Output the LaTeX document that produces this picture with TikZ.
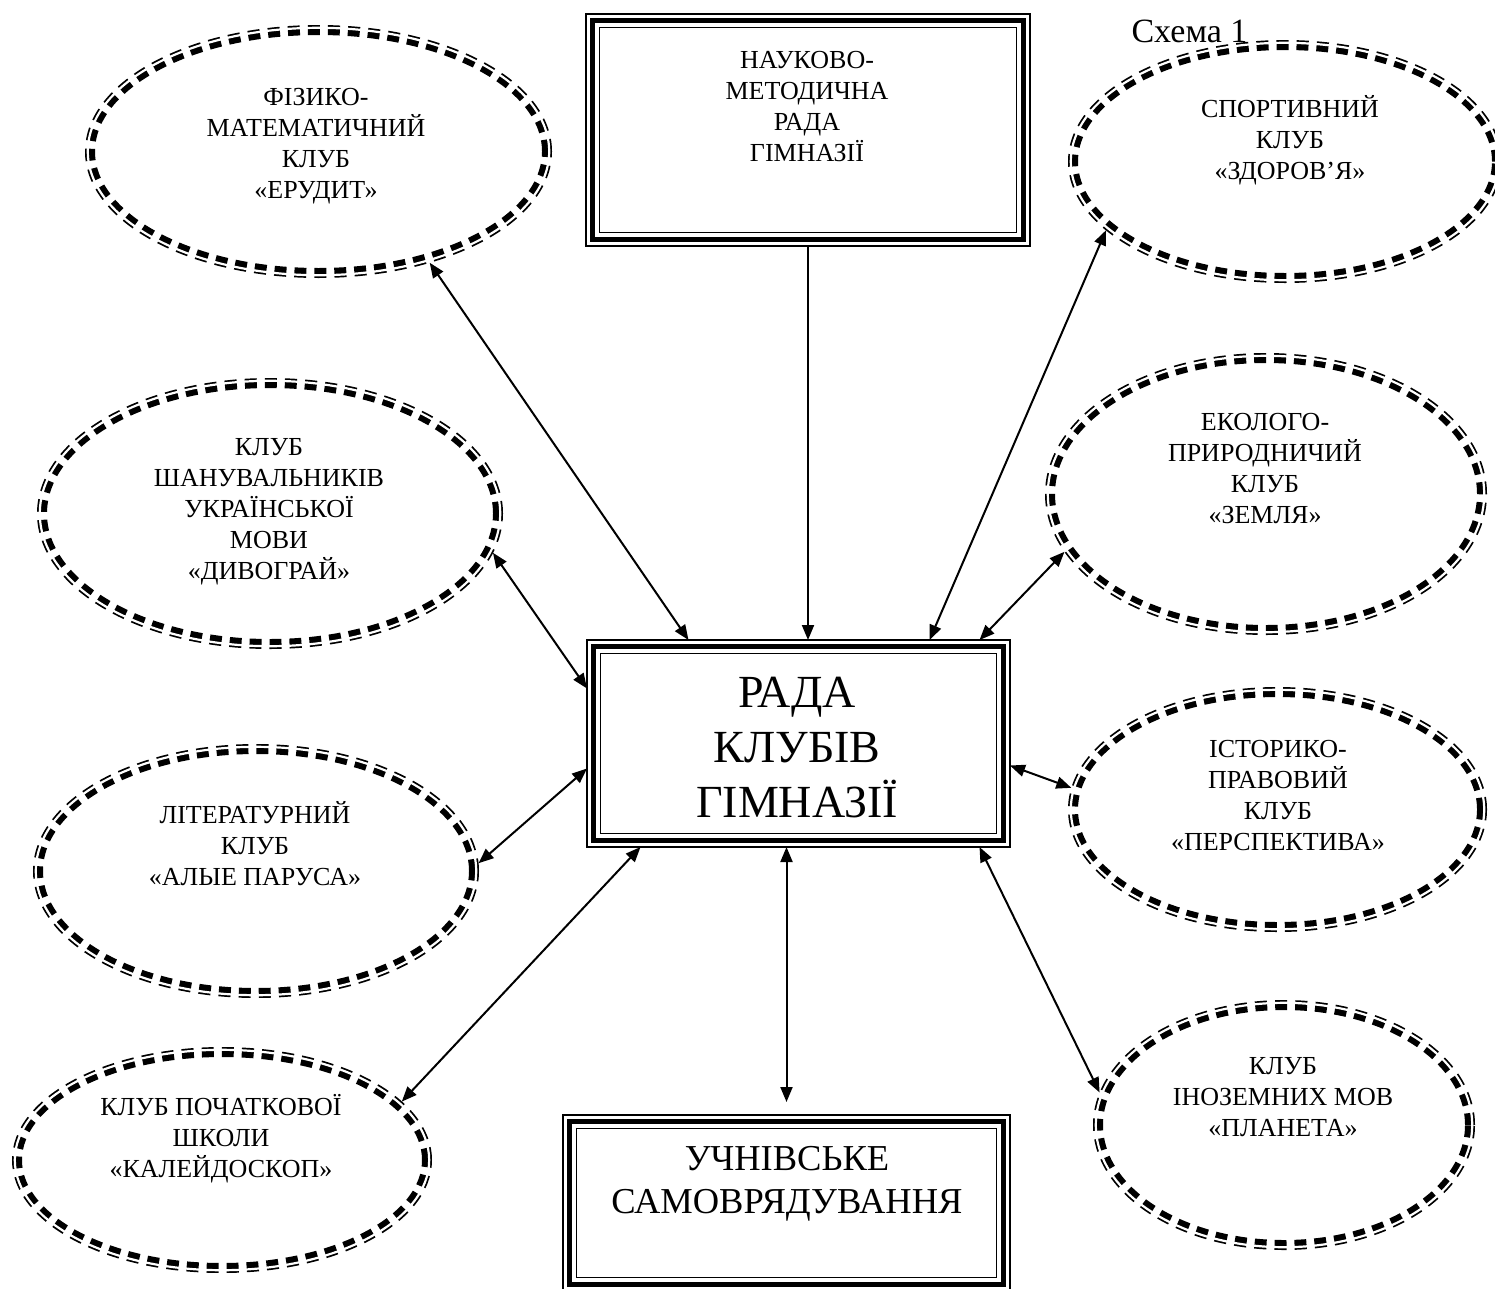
\documentclass[tikz,border=0pt]{standalone}
\usepackage{fontspec}
\setmainfont{Liberation Serif}
\usetikzlibrary{shapes.geometric, arrows.meta}

\tikzset{
  club/.style={ellipse, draw, line width=10pt, dash pattern=on 12pt off 8pt, inner sep=0pt},
  clubgap/.style={draw=white, line width=2.2pt},
  clubtext/.style={align=center, font=\fontsize{26}{31}\selectfont},
  mainbox/.style={rectangle, draw, line width=5pt, inner sep=0pt, outer sep=6.5pt},
  boxthin/.style={line width=1.5pt},
  radatext/.style={align=center, font=\fontsize{46}{55}\selectfont},
  selftext/.style={align=center, font=\fontsize{36.5}{43}\selectfont},
  link/.style={line width=2pt, {Triangle[length=15pt,width=12pt]}-{Triangle[length=15pt,width=12pt]}},
  linkone/.style={line width=2pt, -{Triangle[length=15pt,width=12pt]}}
}

\begin{document}
\begin{tikzpicture}[x=1pt, y=-1pt]
            \useasboundingbox (0,0) rectangle (1495,1288);

            % boxes
            \node[mainbox, minimum width=431pt, minimum height=219pt] (nmr) at (808,130) {};
            \draw[boxthin] (nmr.north west) rectangle (nmr.south east);
            \draw[boxthin] ([shift={(13.5pt,-13.5pt)}]nmr.north west) rectangle ([shift={(-13.5pt,13.5pt)}]nmr.south east);
            \node[clubtext] (nmr-text) at (807,107) {НАУКОВО-\\МЕТОДИЧНА\\РАДА\\ГІМНАЗІЇ};

            \node[mainbox, minimum width=410pt, minimum height=194pt] (rada) at (798.5,743.5) {};
            \draw[boxthin] (rada.north west) rectangle (rada.south east);
            \draw[boxthin] ([shift={(13.5pt,-13.5pt)}]rada.north west) rectangle ([shift={(-13.5pt,13.5pt)}]rada.south east);
            \node[radatext] (rada-text) at (797,748) {РАДА\\КЛУБІВ\\ГІМНАЗІЇ};

            \node[mainbox, minimum width=434pt, minimum height=163pt] (samovr) at (786.5,1203) {};
            \draw[boxthin] (samovr.north west) rectangle (samovr.south east);
            \draw[boxthin] ([shift={(13.5pt,-13.5pt)}]samovr.north west) rectangle ([shift={(-13.5pt,13.5pt)}]samovr.south east);
            \node[selftext] (samovr-text) at (787,1184) {УЧНІВСЬКЕ\\САМОВРЯДУВАННЯ};

            % clubs, left
            \node[club, minimum width=457pt, minimum height=243pt] (erudyt) at (318.5,151.5) {};
            \draw[clubgap] (erudyt.center) ellipse (230.7pt and 123.7pt);
            \node[clubtext] (erudyt-text) at (316,146) {ФІЗИКО-\\МАТЕМАТИЧНИЙ\\КЛУБ\\«ЕРУДИТ»};

            \node[club, minimum width=456pt, minimum height=261pt] (dyvohrai) at (270,513.5) {};
            \draw[clubgap] (dyvohrai.center) ellipse (230.2pt and 132.7pt);
            \node[clubtext] (dyvohrai-text) at (269,512) {КЛУБ\\ШАНУВАЛЬНИКІВ\\УКРАЇНСЬКОЇ\\МОВИ\\«ДИВОГРАЙ»};

            \node[club, minimum width=436pt, minimum height=244pt] (alye) at (256,871) {};
            \draw[clubgap] (alye.center) ellipse (220.2pt and 124.2pt);
            \node[clubtext] (alye-text) at (255,844) {ЛІТЕРАТУРНИЙ\\КЛУБ\\«АЛЫЕ ПАРУСА»};

            \node[club, minimum width=410pt, minimum height=216pt] (kaleid) at (222,1160) {};
            \draw[clubgap] (kaleid.center) ellipse (207.2pt and 110.2pt);
            \node[clubtext] (kaleid-text) at (221,1139) {КЛУБ ПОЧАТКОВОЇ\\ШКОЛИ\\«КАЛЕЙДОСКОП»};

            % clubs, right
            \node[club, minimum width=424pt, minimum height=233pt] (zdorov) at (1285,161.5) {};
            \draw[clubgap] (zdorov.center) ellipse (214.2pt and 118.7pt);
            \node[clubtext] (zdorov-text) at (1290,140) {СПОРТИВНИЙ\\КЛУБ\\«ЗДОРОВ’Я»};

            \node[club, minimum width=432pt, minimum height=272pt] (zemlia) at (1266,494) {};
            \draw[clubgap] (zemlia.center) ellipse (218.2pt and 138.2pt);
            \node[clubtext] (zemlia-text) at (1265,469) {ЕКОЛОГО-\\ПРИРОДНИЧИЙ\\КЛУБ\\«ЗЕМЛЯ»};

            \node[club, minimum width=409pt, minimum height=235pt] (persp) at (1277.5,809.5) {};
            \draw[clubgap] (persp.center) ellipse (206.7pt and 119.7pt);
            \node[clubtext] (persp-text) at (1278,796) {ІСТОРИКО-\\ПРАВОВИЙ\\КЛУБ\\«ПЕРСПЕКТИВА»};

            \node[club, minimum width=372pt, minimum height=240pt] (planeta) at (1284,1125) {};
            \draw[clubgap] (planeta.center) ellipse (188.2pt and 122.2pt);
            \node[clubtext] (planeta-text) at (1283,1097) {КЛУБ\\ІНОЗЕМНИХ МОВ\\«ПЛАНЕТА»};

            \node[anchor=base west, font=\fontsize{34}{40}\selectfont] (schema) at (1128,42) {Схема 1};

            % arrows
            \draw[linkone] (nmr.south) -- (nmr.south |- rada.north);
            \draw[link] (erudyt.-45.5) -- ([xshift=-110pt]rada.north);
            \draw[link] (dyvohrai.-10.5) -- ([yshift=55pt]rada.west);
            \draw[link] (alye.2) -- ([yshift=-25pt]rada.west);
            \draw[link] (kaleid.18.4) -- ([xshift=-158pt]rada.south);
            \draw[link, shorten >=13pt] (rada.south -| samovr.north) -- (samovr.north);
            \draw[link] (zdorov.201) -- ([xshift=131pt]rada.north);
            \draw[link] (zemlia.196) -- ([xshift=181pt]rada.north);
            \draw[link] (persp.174) -- ([yshift=-22pt]rada.east);
            \draw[link] (planeta.170) -- ([xshift=181pt]rada.south);
\end{tikzpicture}
\end{document}
